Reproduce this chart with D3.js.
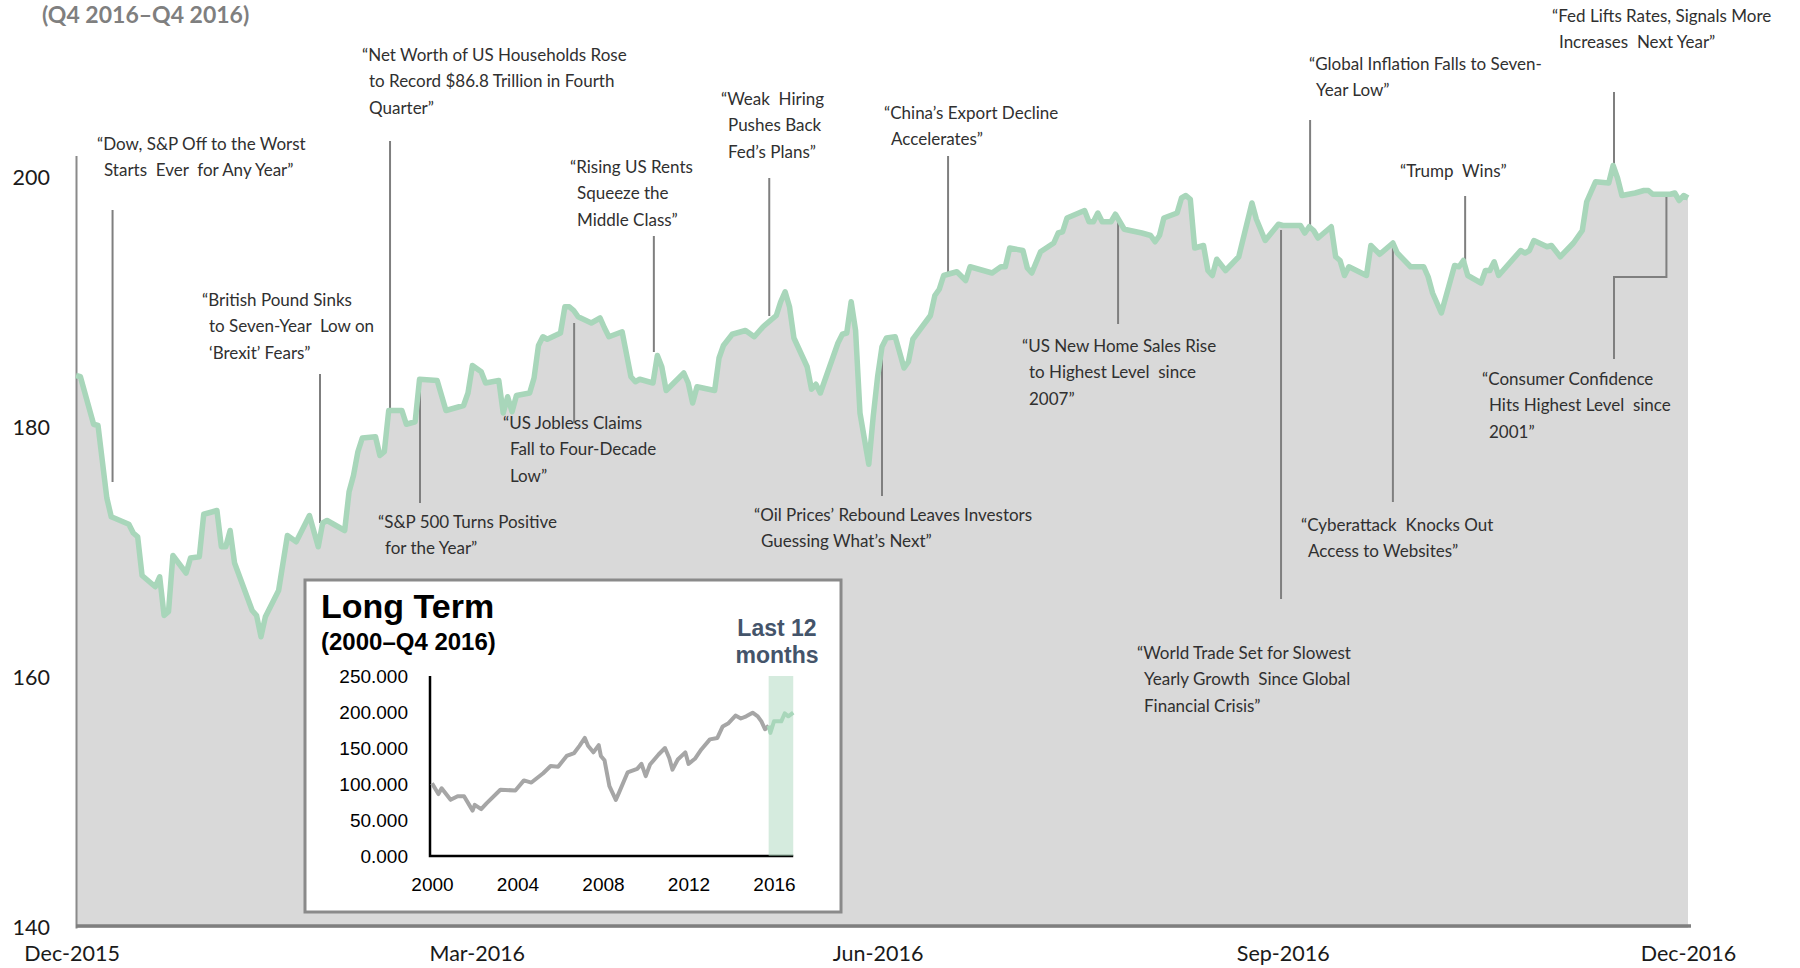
<!DOCTYPE html>
<html>
<head>
<meta charset="utf-8">
<script src="https://cdn.jsdelivr.net/npm/d3@7"></script>
<style>
  body { margin: 0; background: #fff; }
  svg text { font-family: Lato, "Open Sans", sans-serif; }
  .inset text { font-family: "Liberation Sans", Arial, sans-serif; }
</style>
</head>
<body>
<script>
// Main series: calendar days since 28 Dec 2015, index level
const days = [0,1,4,5,7,8,12,13,14,15,18,19,20,21,22,25,26,28,29,32,33,34,35,36,40,41,42,43,46,48,
  50,53,55,56,57,61,62,63,64,65,68,69,70,71,74,75,77,78,82,84,88,89,90,92,93,96,97,98,99,100,
  103,104,105,106,107,110,111,112,113,114,117,119,120,121,124,126,127,128,131,132,
  133,134,138,139,140,141,145,146,147,149,152,154,156,159,160,161,162,163,166,167,
  168,169,170,173,174,175,176,177,178,180,181,182,183,184,186,188,189,190,194,195,
  196,197,200,202,203,208,210,211,212,215,216,217,219,222,223,224,225,229,230,231,
  232,233,235,236,238,242,244,245,246,247,250,251,252,253,254,256,257,258,259,261,
  264,267,268,270,273,274,278,279,280,281,282,285,286,287,288,289,293,294,296,299,
  300,303,306,307,308,310,313,314,315,316,319,320,321,322,323,328,329,330,331,334,
  335,337,340,342,343,345,348,349,350,351,354,356,357,358,362,363,364,365,366];
const values = [184.2,184.1,180.3,180.2,174.4,172.9,172.3,171.6,171.3,168.2,
  167.3,168.1,165.0,165.3,169.8,168.4,169.6,169.7,173.1,173.4,
  170.5,170.5,171.8,169.2,165.4,165.0,163.3,164.9,167.0,171.4,
  170.9,173.0,170.5,172.4,172.6,171.8,174.9,176.2,178.1,179.2,
  179.3,177.8,178.1,181.4,181.4,180.3,180.5,183.9,183.8,181.4,
  181.8,182.8,185.0,184.5,183.6,183.8,181.2,182.5,181.3,182.6,
  182.8,184.0,186.6,187.3,187.1,187.6,189.7,189.7,189.4,188.9,
  188.4,188.8,188.0,187.3,187.7,184.1,183.7,183.9,183.6,185.8,
  184.9,183.0,184.4,183.6,182.0,183.3,183.0,185.6,186.6,187.5,
  187.8,187.3,188.1,189.0,190.1,190.9,189.7,187.2,184.9,183.1,
  183.5,182.8,183.8,186.8,187.5,187.6,190.1,187.8,181.2,177.1,
  180.9,184.1,186.5,187.2,187.3,184.8,185.3,187.1,189.0,190.6,
  191.1,192.2,192.5,191.8,192.9,192.4,192.9,192.9,194.4,194.2,
  192.8,192.4,194.1,194.8,195.6,195.7,196.8,197.4,196.5,196.5,
  197.2,196.5,196.5,197.1,195.9,195.6,195.4,194.9,195.4,196.8,
  197.2,198.4,198.6,198.3,194.4,194.6,192.6,192.2,193.5,192.6,
  193.7,198.0,196.7,195.0,196.3,196.2,196.2,195.6,196.1,195.8,
  195.2,196.1,193.7,193.4,192.2,192.9,192.2,194.6,193.9,194.8,
  194.0,192.9,192.9,192.1,190.8,189.2,193.0,192.9,193.4,192.2,
  191.6,192.6,192.6,193.3,192.2,194.2,194.0,194.2,195.0,194.5,
  194.6,193.7,194.8,195.8,198.1,199.7,199.6,201.0,200.0,198.6,
  198.8,199.0,199.0,198.7,198.7,198.8,198.2,198.6,198.4];

const tickDays = [-1, 91, 182, 274, 366];
const tickLabels = ["Dec-2015", "Mar-2016", "Jun-2016", "Sep-2016", "Dec-2016"];
const yTicks = [140, 160, 180, 200];

// Long term inset (2000 - Q4 2016)
const ltYears = [2000.0,2000.3,2000.45,2000.87,2001.2,2001.5,2001.9,2002.0,2002.3,2002.55,
  2003.2,2003.9,2004.3,2004.65,2005.2,2005.55,2005.9,2006.3,2006.65,2006.9,
  2007.15,2007.3,2007.55,2007.8,2007.9,2008.07,2008.3,2008.6,2008.75,2009.15,
  2009.6,2009.8,2010.0,2010.2,2010.6,2010.9,2011.1,2011.25,2011.5,2011.85,
  2012.0,2012.3,2012.6,2013.0,2013.35,2013.6,2013.85,2014.2,2014.45,2014.7,
  2015.0,2015.24,2015.41,2015.58,2015.75];
const ltValues = [101,86,94,78,83,83,63,71,65,73,
  92,91,105,102,115,125,124,139,143,153,
  164,153,144,154,139,133,97,78,88,116,
  121,128,111,127,141,150,136,120,134,144,
  128,135,148,162,164,180,184,195,191,194,
  199,194,187,176,181];
const recentYears = [2015.75, 2015.83, 2016.0, 2016.34, 2016.5, 2016.67, 2016.9];
const recentValues = [181, 171, 187, 187, 198, 194, 199];
const bandYears = [2015.75, 2016.9];
const ltYTicks = [0, 50, 100, 150, 200, 250];
const ltXTicks = [2000, 2004, 2008, 2012, 2016];

// Headlines: anchor day, leader top/bottom, text position
const notes = [
  { day: 8.3,   y1: 210, y2: 482, x: 97,   y: 144, lines: ["“Dow, S&P Off to the Worst", "Starts  Ever  for Any Year”"] },
  { day: 71.3,  y1: 141, y2: 409, x: 362,  y: 55,  lines: ["“Net Worth of US Households Rose", "to Record $86.8 Trillion in Fourth", "Quarter”"] },
  { day: 55.4,  y1: 374, y2: 523, x: 202,  y: 300, lines: ["“British Pound Sinks", "to Seven-Year  Low on", "‘Brexit’ Fears”"] },
  { day: 78.1,  y1: 387, y2: 503, x: 378,  y: 522, lines: ["“S&P 500 Turns Positive", "for the Year”"] },
  { day: 113.1, y1: 323, y2: 423, x: 503,  y: 423, lines: ["“US Jobless Claims", "Fall to Four-Decade", "Low”"] },
  { day: 131.2, y1: 236, y2: 352, x: 570,  y: 167, lines: ["“Rising US Rents", "Squeeze the", "Middle Class”"] },
  { day: 157.4, y1: 178, y2: 316, x: 721,  y: 99,  lines: ["“Weak  Hiring", "Pushes Back", "Fed’s Plans”"] },
  { day: 198.0, y1: 156, y2: 273, x: 884,  y: 113, lines: ["“China’s Export Decline", "Accelerates”"] },
  { day: 183.0, y1: 347, y2: 496, x: 754,  y: 515, lines: ["“Oil Prices’ Rebound Leaves Investors", "Guessing What’s Next”"] },
  { day: 236.6, y1: 221, y2: 324, x: 1022, y: 346, lines: ["“US New Home Sales Rise", "to Highest Level  since", "2007”"] },
  { day: 273.6, y1: 230, y2: 599, x: 1137, y: 653, lines: ["“World Trade Set for Slowest", "Yearly Growth  Since Global", "Financial Crisis”"] },
  { day: 280.2, y1: 120, y2: 227, x: 1309, y: 64,  lines: ["“Global Inflation Falls to Seven-", "Year Low”"] },
  { day: 299.0, y1: 244, y2: 502, x: 1301, y: 525, lines: ["“Cyberattack  Knocks Out", "Access to Websites”"] },
  { day: 315.4, y1: 196, y2: 262, x: 1400, y: 171, lines: ["“Trump  Wins”"] },
  { day: 349.2, y1: 92,  y2: 166, x: 1552, y: 16,  lines: ["“Fed Lifts Rates, Signals More", "Increases  Next Year”"] },
  { day: 361.1, y1: 195, y2: 359, x: 1482, y: 379, elbow: { day: 349.2, y: 277 }, lines: ["“Consumer Confidence", "Hits Highest Level  since", "2001”"] }
];

const width = 1800, height = 968;
const svg = d3.select("body").append("svg")
  .attr("width", width)
  .attr("height", height);

const x = d3.scaleLinear().domain([0, 366]).range([76, 1688]);
const y = d3.scaleLinear().domain([140, 201.8]).range([928, 155.5]);

const series = days.map((d, i) => ({ day: d, value: values[i] }));

// Area under the line
svg.append("path")
  .datum(series)
  .attr("fill", "#d9d9d9")
  .attr("d", d3.area().x(d => x(d.day)).y0(y(140)).y1(d => y(d.value)));

// Y axis
const yAxis = svg.append("g")
  .attr("transform", `translate(${x(0)},0)`)
  .call(d3.axisLeft(y).tickValues(yTicks).tickSize(0).tickPadding(26));
yAxis.select(".domain").attr("stroke", "#8a8a8a").attr("stroke-width", 2);
yAxis.selectAll("text").attr("font-size", 21.5).attr("fill", "#1a1a1a")
  .style("font-family", "Lato, sans-serif");

// X axis
const xAxis = svg.append("g")
  .attr("transform", "translate(0,926)")
  .call(d3.axisBottom(x).tickValues(tickDays).tickSize(0).tickPadding(20)
    .tickFormat((d, i) => tickLabels[i]));
xAxis.select(".domain").remove();
xAxis.selectAll("text").attr("font-size", 21.5).attr("fill", "#1a1a1a")
  .style("font-family", "Lato, sans-serif");

svg.append("line")
  .attr("x1", x(0)).attr("x2", x(366) + 3)
  .attr("y1", 926).attr("y2", 926)
  .attr("stroke", "#7f7f7f").attr("stroke-width", 3.5);

// Leader lines
const leaders = svg.append("g").attr("stroke", "#7f7f7f").attr("stroke-width", 2).attr("fill", "none");
notes.forEach(n => {
  if (n.elbow) {
    leaders.append("path").attr("d",
      `M${x(n.day)},${n.y1}V${n.elbow.y}H${x(n.elbow.day)}V${n.y2}`);
  } else {
    leaders.append("line").attr("x1", x(n.day)).attr("x2", x(n.day))
      .attr("y1", n.y1).attr("y2", n.y2);
  }
});

// Index line
svg.append("path")
  .datum(series)
  .attr("fill", "none")
  .attr("stroke", "#a8d6ba")
  .attr("stroke-width", 5.5)
  .attr("stroke-linejoin", "round")
  .attr("d", d3.line().x(d => x(d.day)).y(d => y(d.value)));

// Headline texts
const lineGap = 26.5;
notes.forEach(n => {
  const t = svg.append("text")
    .attr("font-size", 17)
    .attr("fill", "#303030")
    .style("white-space", "pre");
  n.lines.forEach((s, i) => {
    t.append("tspan")
      .attr("x", n.x + (i ? 7 : 0))
      .attr("y", n.y + i * lineGap)
      .attr("dy", "0.35em")
      .text(s);
  });
});

// Title
svg.append("text")
  .attr("x", 42).attr("y", 15).attr("dy", "0.35em")
  .attr("font-size", 23).attr("font-weight", 700).attr("fill", "#7f7f7f")
  .text("(Q4 2016–Q4 2016)");

// Inset: long term
const inset = svg.append("g").attr("class", "inset");
inset.append("rect")
  .attr("x", 305).attr("y", 580).attr("width", 536).attr("height", 332)
  .attr("fill", "#fff").attr("stroke", "#8a8a8a").attr("stroke-width", 3);

inset.append("text").attr("x", 321).attr("y", 606).attr("dy", "0.35em")
  .attr("font-size", 34).attr("font-weight", 700).attr("fill", "#000")
  .text("Long Term");
inset.append("text").attr("x", 321).attr("y", 642).attr("dy", "0.35em")
  .attr("font-size", 24).attr("font-weight", 700).attr("fill", "#000")
  .text("(2000–Q4 2016)");
inset.append("text").attr("text-anchor", "middle").attr("font-size", 23)
  .attr("font-weight", 700).attr("fill", "#44546a")
  .selectAll("tspan").data(["Last 12", "months"]).join("tspan")
  .attr("x", 777).attr("y", (d, i) => 628 + i * 27).attr("dy", "0.35em")
  .text(d => d);

const ix = d3.scaleLinear().domain([2000, 2016]).range([432, 774]);
const iy = d3.scaleLinear().domain([0, 250]).range([856, 676]);

const iyAxis = inset.append("g").attr("transform", "translate(430,0)")
  .call(d3.axisLeft(iy).tickValues(ltYTicks).tickFormat(d3.format(".3f")).tickSize(0).tickPadding(22));
iyAxis.select(".domain").remove();
iyAxis.selectAll("text").attr("font-size", 19).attr("fill", "#000");

const ixAxis = inset.append("g").attr("transform", "translate(0,856)")
  .call(d3.axisBottom(ix).tickValues(ltXTicks).tickFormat(d3.format("d")).tickSize(0).tickPadding(22));
ixAxis.select(".domain").remove();
ixAxis.selectAll("text").attr("font-size", 19).attr("fill", "#000");

inset.append("path")
  .attr("d", `M430,${iy(250)}V${iy(0)}H${ix(bandYears[1])}`)
  .attr("fill", "none").attr("stroke", "#000").attr("stroke-width", 2.5);

const lt = ltYears.map((d, i) => ({ yr: d, v: ltValues[i] }));
const recent = recentYears.map((d, i) => ({ yr: d, v: recentValues[i] }));
const iline = d3.line().x(d => ix(d.yr)).y(d => iy(d.v));

inset.append("path").datum(lt)
  .attr("fill", "none").attr("stroke", "#a6a6a6").attr("stroke-width", 4)
  .attr("stroke-linejoin", "round").attr("d", iline);

inset.append("rect")
  .attr("x", ix(bandYears[0])).attr("width", ix(bandYears[1]) - ix(bandYears[0]))
  .attr("y", iy(250)).attr("height", iy(0) - iy(250))
  .attr("fill", "rgba(168,213,186,0.48)");

inset.append("path").datum(recent)
  .attr("fill", "none").attr("stroke", "#a8d6ba").attr("stroke-width", 4)
  .attr("stroke-linejoin", "round").attr("d", iline);
</script>
</body>
</html>
